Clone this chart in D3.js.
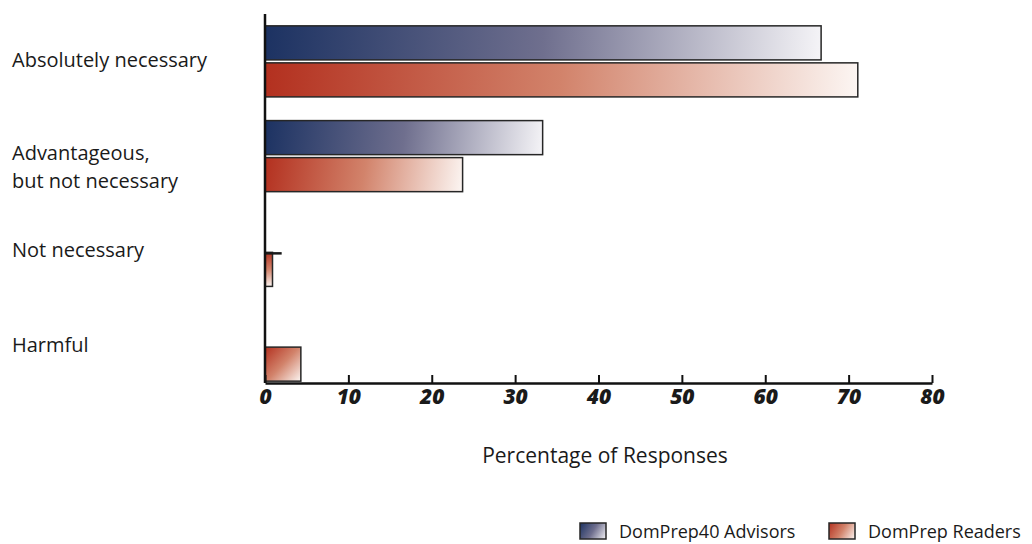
<!DOCTYPE html>
<html>
<head>
<meta charset="utf-8">
<script src="https://cdn.jsdelivr.net/npm/d3@7"></script>
<style>
  html, body { margin: 0; padding: 0; background: #fff; }
  svg { display: block; }
  text { font-family: "Open Sans", "Noto Sans", sans-serif; fill: #1a1a1a; }
</style>
</head>
<body>
<svg id="chart" width="1032" height="544"></svg>
<script>
// Survey answers, one row per answer category
const categories = ["Absolutely necessary", "Advantageous,\nbut not necessary", "Not necessary", "Harmful"];
const seriesNames = ["DomPrep40 Advisors", "DomPrep Readers"];
const advisors = [66.7, 33.3, 0, 0];
const readers = [71.1, 23.7, 0.9, 4.3];
const xTicks = [0, 10, 20, 30, 40, 50, 60, 70, 80];
const xTitle = "Percentage of Responses";

// Gradient ramps for each series (dark at the root, fading to near white)
const ramps = {
  "DomPrep40 Advisors": ["#1c3262", "#6f6f8e", "#f5f4f7"],
  "DomPrep Readers": ["#b3301f", "#d2836b", "#fcf6f3"]
};

const svg = d3.select("#chart");
const defs = svg.append("defs");

const x = d3.scaleLinear().domain([0, 80]).range([265, 932]);
const y = d3.scaleBand().domain(categories).range([14, 393]).paddingInner(0.25).paddingOuter(0.125);
const ySub = d3.scaleBand().domain(seriesNames).range([0, y.bandwidth()]).paddingInner(0.08);
const baseline = 383;

const rows = [];
categories.forEach((c, i) => {
  rows.push({ cat: c, series: seriesNames[0], value: advisors[i] });
  rows.push({ cat: c, series: seriesNames[1], value: readers[i] });
});

function addGradient(id, series, x0, y0, x1, y1) {
  const g = defs.append("linearGradient")
    .attr("id", id)
    .attr("gradientUnits", "userSpaceOnUse")
    .attr("x1", x0).attr("y1", y0).attr("x2", x1).attr("y2", y1);
  const r = ramps[series];
  g.append("stop").attr("offset", "0%").attr("stop-color", r[0]);
  g.append("stop").attr("offset", "50%").attr("stop-color", r[1]);
  g.append("stop").attr("offset", "100%").attr("stop-color", r[2]);
}

// Bars
const bars = rows.filter(d => d.value > 0);
bars.forEach((d, i) => {
  const bx = x(0), bw = x(d.value) - x(0);
  const by = y(d.cat) + ySub(d.series), bh = ySub.bandwidth();
  const id = "grad" + i;
  addGradient(id, d.series, bx, by, bx + bw, by + bh);
  svg.append("rect")
    .attr("x", bx).attr("y", by)
    .attr("width", bw).attr("height", bh)
    .attr("fill", `url(#${id})`)
    .attr("stroke", "#262626")
    .attr("stroke-width", 1.5);
});

// Short rule over the readers' "Not necessary" bar
svg.append("line")
  .attr("x1", x(0)).attr("x2", x(2))
  .attr("y1", y("Not necessary") + ySub(seriesNames[1]) + 1)
  .attr("y2", y("Not necessary") + ySub(seriesNames[1]) + 1)
  .attr("stroke", "#1a1a1a").attr("stroke-width", 2.5);

// Vertical axis line
svg.append("line")
  .attr("x1", x(0)).attr("x2", x(0))
  .attr("y1", y.range()[0]).attr("y2", baseline)
  .attr("stroke", "#111").attr("stroke-width", 2.5);

// Bottom axis with inward ticks
const xAxis = d3.axisBottom(x).tickValues(xTicks).tickSize(-8).tickSizeOuter(0).tickPadding(3);
const gx = svg.append("g").attr("transform", `translate(0,${baseline})`).call(xAxis);
gx.select(".domain").attr("stroke", "#111").attr("stroke-width", 2.5);
gx.selectAll(".tick line").attr("stroke", "#111").attr("stroke-width", 2);
gx.selectAll(".tick text")
  .attr("fill", "#111")
  .style("font-family", "'Open Sans', 'Noto Sans', sans-serif")
  .style("font-size", "21px")
  .style("font-weight", "800")
  .style("font-style", "italic")
  .attr("dy", "0.85em");

// Axis title
svg.append("text")
  .attr("x", 605).attr("y", 463)
  .attr("text-anchor", "middle")
  .style("font-size", "21px")
  .text(xTitle);

// Category labels: first line centred on the category band
categories.forEach(c => {
  const lines = c.split("\n");
  const t = svg.append("text")
    .attr("x", 12)
    .attr("y", y(c) + y.bandwidth() / 2 - (lines.length > 1 ? 3 : 1))
    .style("font-size", "20px");
  lines.forEach((ln, k) => {
    t.append("tspan").attr("x", 12).attr("dy", k === 0 ? "0.35em" : "1.38em").text(ln);
  });
});

// Legend
const legendX = [580, 829];
seriesNames.forEach((s, i) => {
  const lx = legendX[i], ly = 523;
  addGradient("legend" + i, s, lx, ly, lx + 26, ly + 16);
  svg.append("rect")
    .attr("x", lx).attr("y", ly).attr("width", 26).attr("height", 16)
    .attr("fill", `url(#legend${i})`)
    .attr("stroke", "#262626").attr("stroke-width", 1.5);
  svg.append("text")
    .attr("x", lx + 39).attr("y", ly + 15)
    .style("font-size", "18px")
    .text(s);
});
</script>
</body>
</html>
